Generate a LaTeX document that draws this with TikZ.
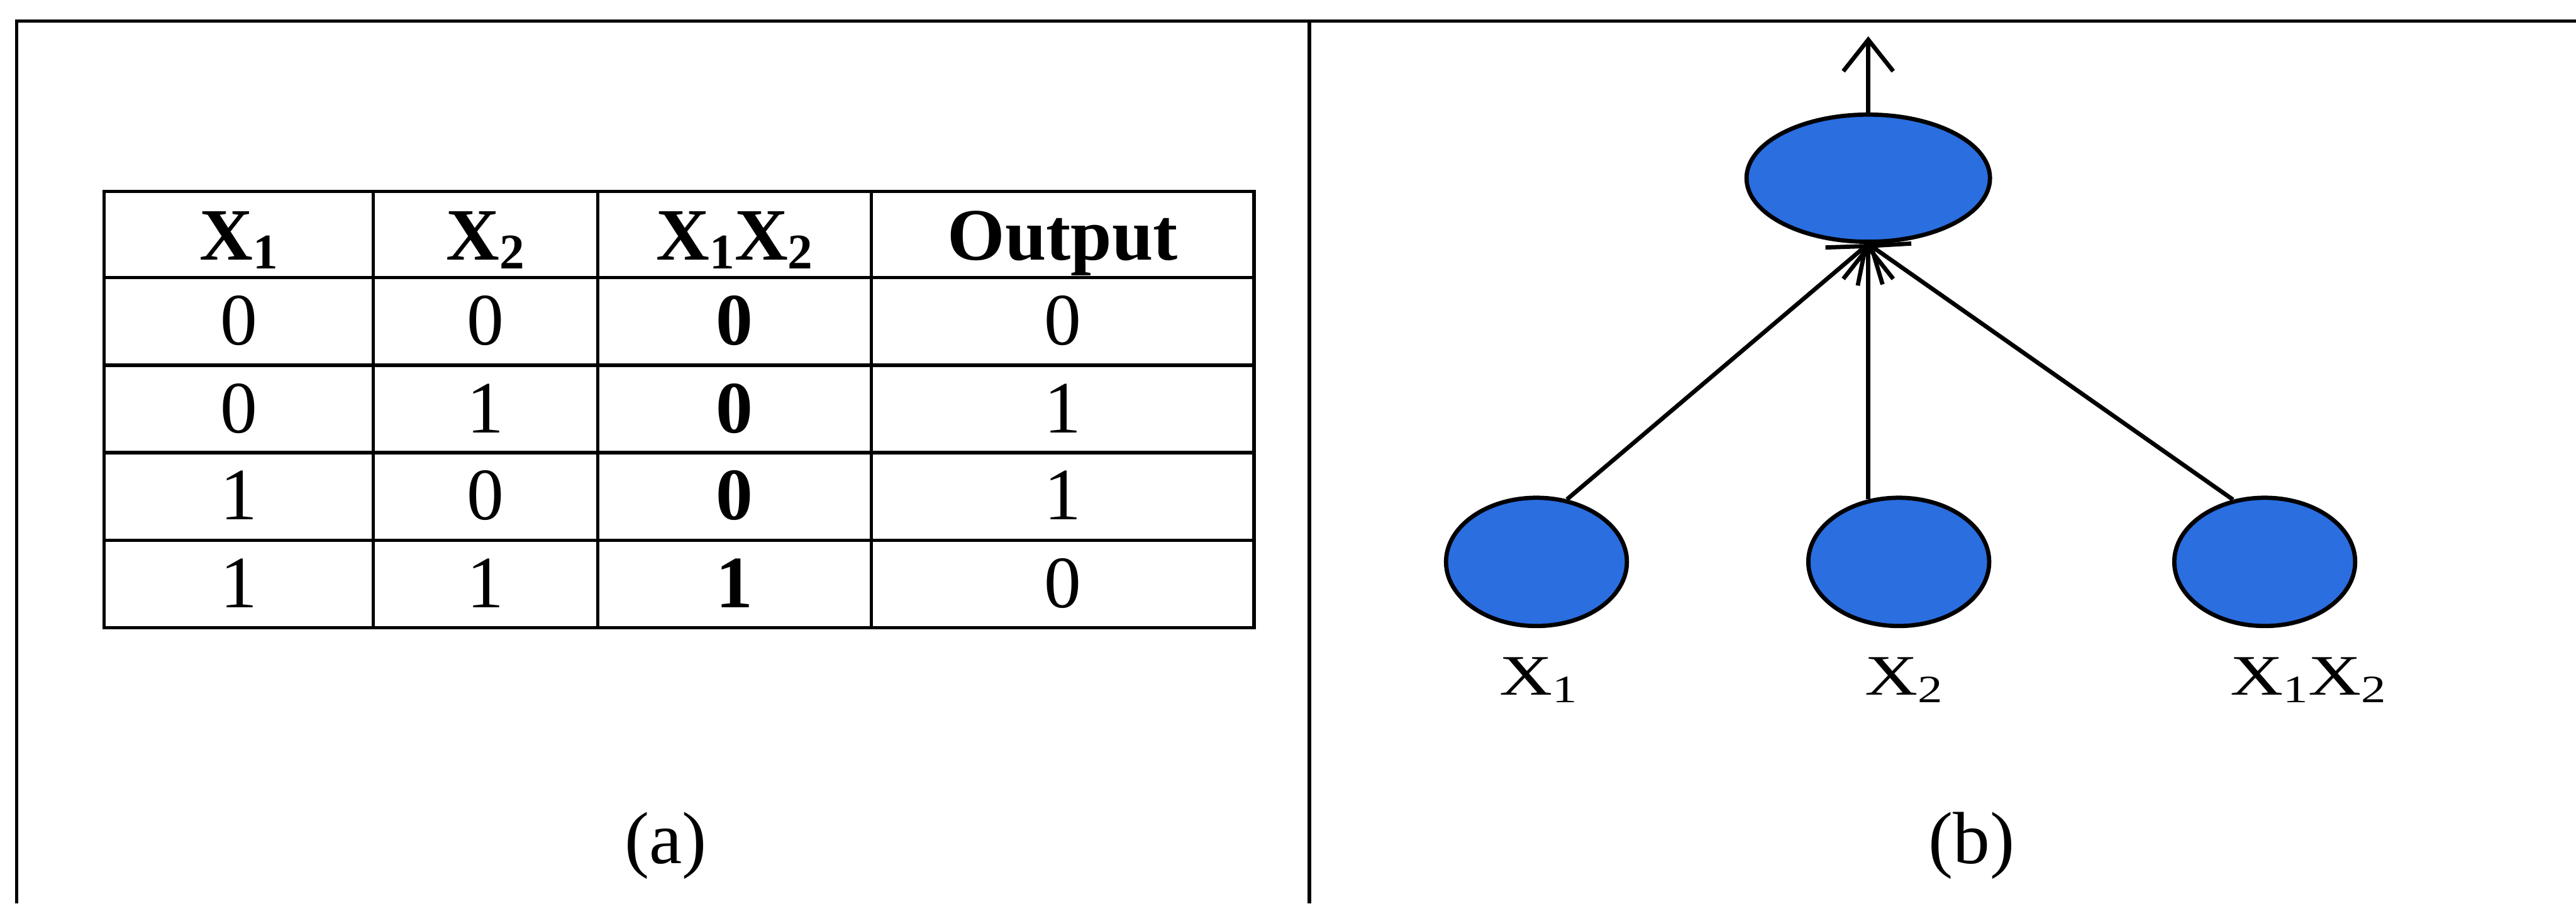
\documentclass[tikz,border=0pt]{standalone}
\usepackage{fontspec}
\setmainfont{Liberation Serif}
\newfontfamily\tabfont{Liberation Serif}
\newfontfamily\labfont[FakeStretch=1.28]{Liberation Serif}
\usetikzlibrary{shapes.geometric,arrows.meta}
\definecolor{nodeblue}{RGB}{42,110,224}
\newcommand{\tsub}[1]{\raisebox{-4.8pt}{\fontsize{27}{27}\selectfont #1}}
\newcommand{\lsub}[1]{\raisebox{-4.3pt}{\fontsize{21}{21}\selectfont #1}}
\begin{document}
\begin{tikzpicture}[x=1cm,y=1cm,
  frame/.style={line width=1.8pt, draw=black},
  grid/.style={line width=1.8pt, draw=black},
  unit/.style={ellipse, draw=black, fill=nodeblue, line width=2.3pt,
    minimum width=3.44cm, minimum height=2.44cm, inner sep=0pt},
  cell/.style={anchor=base, inner sep=0pt, font=\tabfont\fontsize{40}{40}\selectfont},
  boldcell/.style={anchor=base, inner sep=0pt, font=\tabfont\bfseries\fontsize{40}{40}\selectfont},
  lab/.style={anchor=base, inner sep=0pt, font=\labfont\fontsize{31}{31}\selectfont},
  captext/.style={anchor=base, inner sep=0pt, font=\fontsize{40}{40}\selectfont},
  conn/.style={-{Straight Barb[length=0.6cm,width=0.95cm]}, line width=2.3pt}
]
\useasboundingbox (0,0) rectangle (48.99,-17.19);
\fill[white] (0,0) rectangle (48.99,-17.19);

% frame
\coordinate (ftl) at (0.32,-0.40);
\coordinate (ftr) at (48.99,-0.40);
\coordinate (fbl) at (0.32,-17.19);
\coordinate (fmt) at (24.90,-0.40);
\coordinate (fmb) at (24.90,-17.19);
\draw[frame] (fbl) -- (ftl) -- (ftr);
\draw[frame] (fmt) -- (fmb);

% table grid
\draw[grid] (1.98,-3.64) rectangle (23.85,-11.94);
\foreach \yy in {-5.28,-6.95,-8.61,-10.28} \draw[grid] (1.98,\yy) -- (23.85,\yy);
\foreach \xx in {7.10,11.37,16.57} \draw[grid] (\xx,-3.64) -- (\xx,-11.94);

% header
\node[boldcell] (h1) at (4.545,-4.95) {X\tsub{1}};
\node[boldcell] (h2) at (9.235,-4.95) {X\tsub{2}};
\node[boldcell] (h3) at (13.97,-4.95) {X\tsub{1}X\tsub{2}};
\node[boldcell] (h4) at (20.21,-4.95) {Output};

% rows
\node[cell] (r1a) at (4.545,-6.56) {0};
\node[cell] (r1b) at (9.235,-6.56) {0};
\node[boldcell] (r1c) at (13.97,-6.56) {0};
\node[cell] (r1d) at (20.21,-6.56) {0};

\node[cell] (r2a) at (4.545,-8.23) {0};
\node[cell] (r2b) at (9.235,-8.23) {1};
\node[boldcell] (r2c) at (13.97,-8.23) {0};
\node[cell] (r2d) at (20.21,-8.23) {1};

\node[cell] (r3a) at (4.545,-9.89) {1};
\node[cell] (r3b) at (9.235,-9.89) {0};
\node[boldcell] (r3c) at (13.97,-9.89) {0};
\node[cell] (r3d) at (20.21,-9.89) {1};

\node[cell] (r4a) at (4.545,-11.56) {1};
\node[cell] (r4b) at (9.235,-11.56) {1};
\node[boldcell] (r4c) at (13.97,-11.56) {1};
\node[cell] (r4d) at (20.21,-11.56) {0};

\node[captext] (capa) at (12.66,-16.43) {(a)};

% network
\node[unit, minimum width=4.63cm, minimum height=2.42cm] (out) at (35.53,-3.39) {};
\node[unit] (x1) at (29.22,-10.69) {};
\node[unit] (x2) at (36.11,-10.69) {};
\node[unit] (x12) at (43.07,-10.69) {};

\coordinate (outtip) at (35.53,-0.69);
\draw[conn] (out.north) -- (outtip);
\draw[conn] (x1.64) -- (out.south);
\draw[conn] (out.south |- x2.115) -- (out.south);
\draw[conn] (x12.117) -- (out.south);

\node[lab] (l1) at (29.26,-13.22) {X\lsub{1}};
\node[lab] (l2) at (36.21,-13.22) {X\lsub{2}};
\node[lab] (l3) at (43.90,-13.22) {X\lsub{1}X\lsub{2}};

\node[captext] (capb) at (37.50,-16.43) {(b)};
\end{tikzpicture}
\end{document}
